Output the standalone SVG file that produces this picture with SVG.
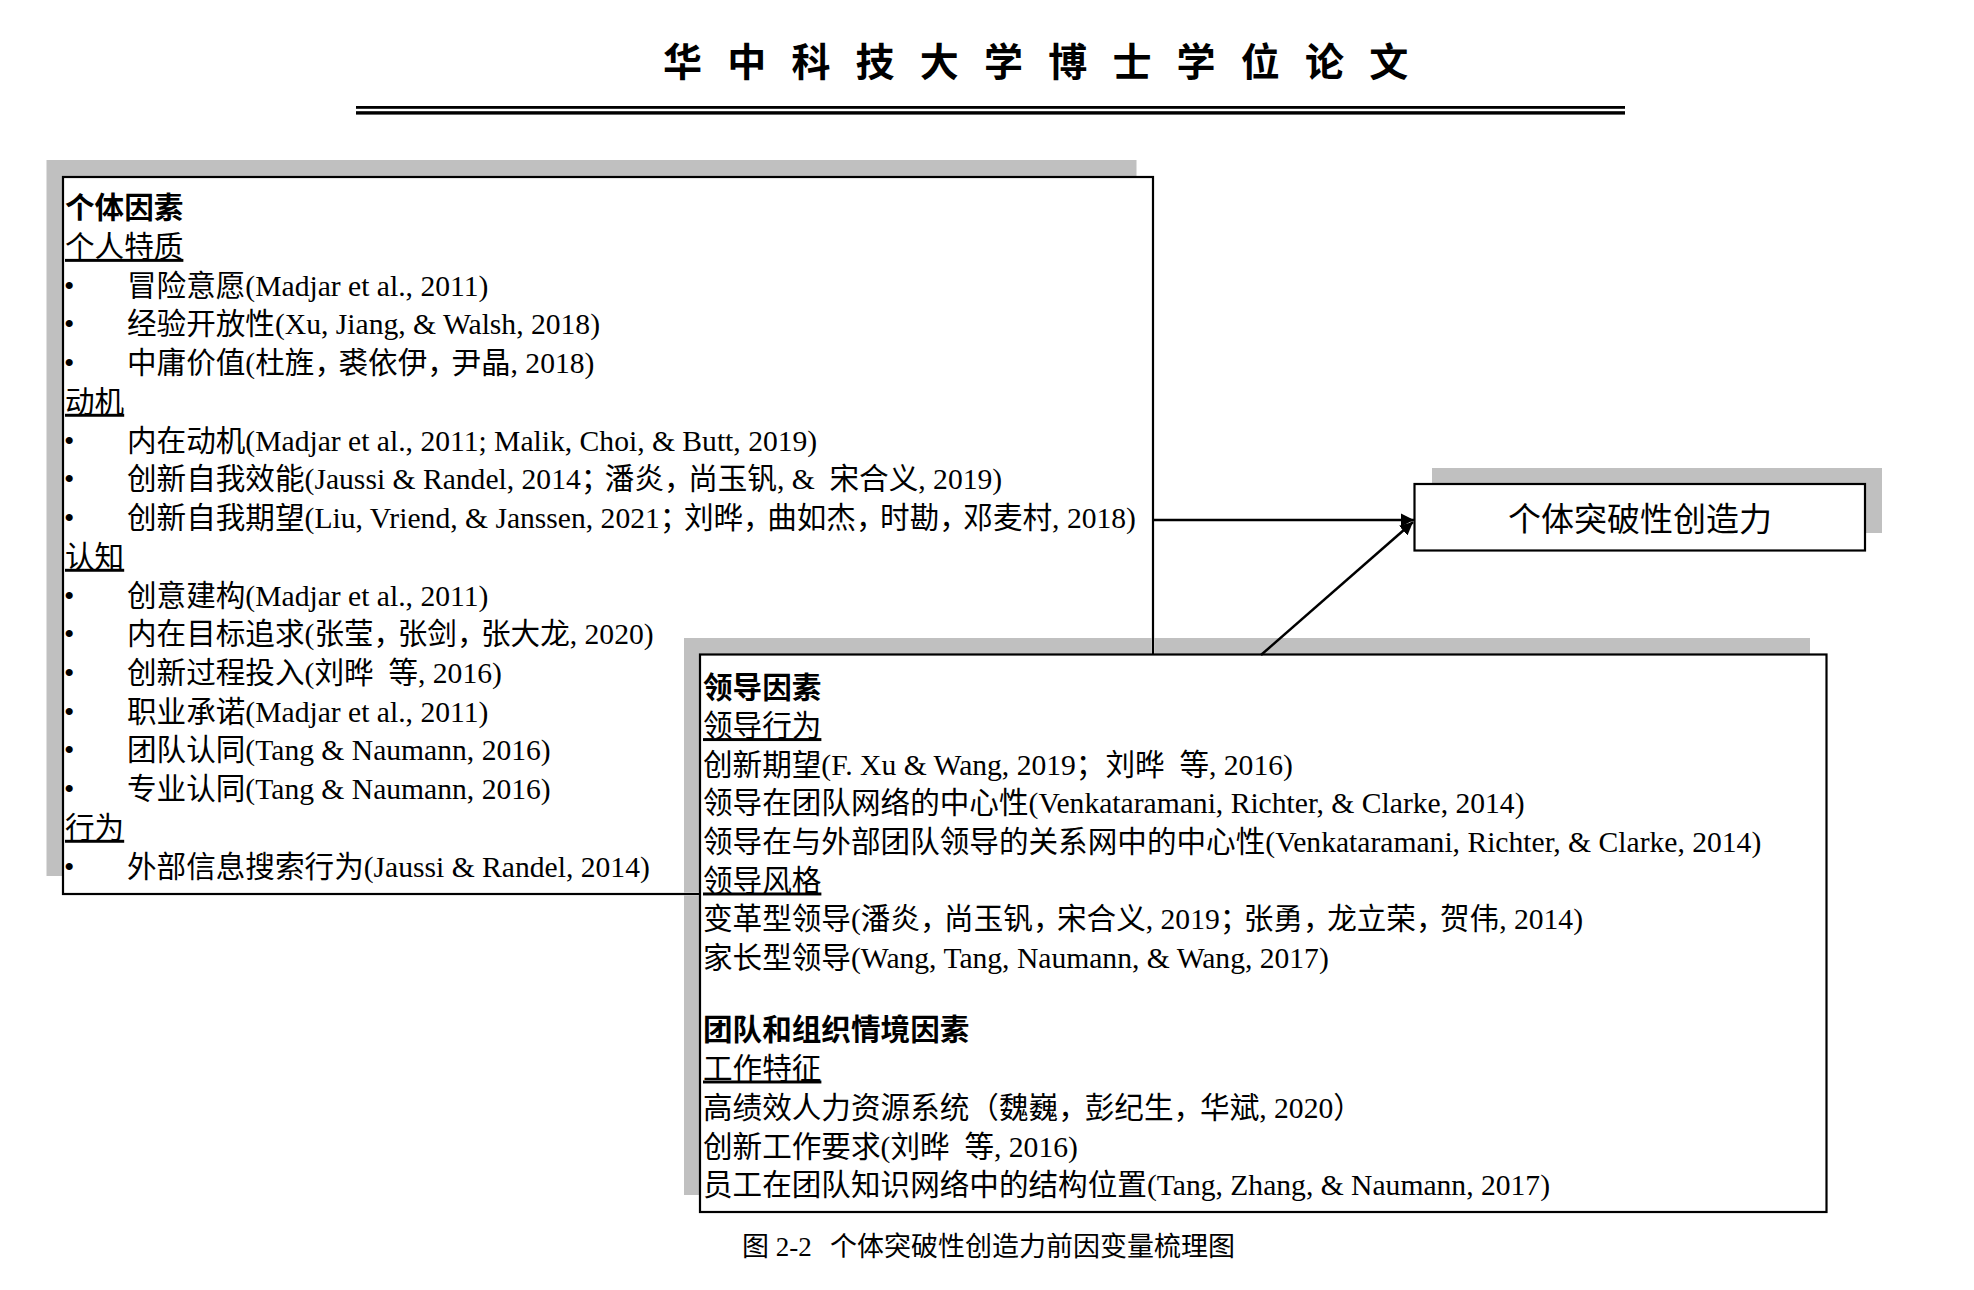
<svg xmlns="http://www.w3.org/2000/svg" width="1974" height="1290" viewBox="0 0 1974 1290">
<style>
.bg{fill:#ffffff}
.shadow{fill:#c0c0c0;stroke:none}
.box{fill:#ffffff;stroke:#000000;stroke-width:2.2}
.t{font-family:"Liberation Serif","Noto Sans CJK SC",serif;font-size:29.6px;fill:#000000;white-space:pre}
.h{font-weight:bold}
.ul{text-decoration:underline}
.p{letter-spacing:-5.5px}
.title{font-family:"Noto Sans CJK SC",sans-serif;font-size:39px;font-weight:bold;fill:#000000;text-anchor:middle}
.cap{font-family:"Liberation Serif","Noto Sans CJK SC",serif;font-size:27px;fill:#000000}
.out{font-family:"Liberation Serif","Noto Sans CJK SC",serif;font-size:33px;fill:#000000;text-anchor:middle}
.conn{stroke:#000000;stroke-width:2.5;fill:none}
</style>
<defs>
<marker id="arrow" markerUnits="userSpaceOnUse" markerWidth="14" markerHeight="14" refX="13" refY="7" orient="auto">
<path d="M0,0.5 L13,7 L0,13.5 Z" fill="#000000"/>
</marker>
</defs>
<rect class="bg" x="0" y="0" width="1974" height="1290"/>

<g id="page-header">
<text class="title" x="682.5 746.7 810.9 875.1 939.3 1003.5 1067.7 1131.9 1196.1 1260.3 1324.5 1388.7" y="76">华中科技大学博士学位论文</text>
<rect x="356" y="106" width="1269" height="2.8" fill="#000000"/>
<rect x="356" y="111.2" width="1269" height="3.4" fill="#000000"/>
</g>

<g id="node-individual">
<rect class="shadow" x="46.5" y="160" width="1090" height="716"/>
<rect class="box" x="63" y="177" width="1090" height="717"/>
<text class="t h" x="65" y="218.2">个体因素</text>
<text class="t ul" x="65" y="256.9">个人特质</text>
<text class="t" x="64" y="295.7">•</text><text class="t" x="127" y="295.7">冒险意愿(Madjar et al., 2011)</text>
<text class="t" x="64" y="334.4">•</text><text class="t" x="127" y="334.4">经验开放性(Xu, Jiang, &amp; Walsh, 2018)</text>
<text class="t" x="64" y="373.1">•</text><text class="t" x="127" y="373.1">中庸价值(杜旌<tspan class="p">，</tspan>裘依伊<tspan class="p">，</tspan>尹晶, 2018)</text>
<text class="t ul" x="65" y="411.8">动机</text>
<text class="t" x="64" y="450.6">•</text><text class="t" x="127" y="450.6">内在动机(Madjar et al., 2011; Malik, Choi, &amp; Butt, 2019)</text>
<text class="t" x="64" y="489.3">•</text><text class="t" x="127" y="489.3">创新自我效能(Jaussi &amp; Randel, 2014<tspan class="p">；</tspan>潘炎<tspan class="p">，</tspan>尚玉钒, &amp;  宋合义, 2019)</text>
<text class="t" x="64" y="528.0">•</text><text class="t" x="127" y="528.0">创新自我期望(Liu, Vriend, &amp; Janssen, 2021<tspan class="p">；</tspan>刘晔<tspan class="p">，</tspan>曲如杰<tspan class="p">，</tspan>时勘<tspan class="p">，</tspan>邓麦村, 2018)</text>
<text class="t ul" x="65" y="566.8">认知</text>
<text class="t" x="64" y="605.5">•</text><text class="t" x="127" y="605.5">创意建构(Madjar et al., 2011)</text>
<text class="t" x="64" y="644.2">•</text><text class="t" x="127" y="644.2">内在目标追求(张莹<tspan class="p">，</tspan>张剑<tspan class="p">，</tspan>张大龙, 2020)</text>
<text class="t" x="64" y="682.9">•</text><text class="t" x="127" y="682.9">创新过程投入(刘晔  等, 2016)</text>
<text class="t" x="64" y="721.7">•</text><text class="t" x="127" y="721.7">职业承诺(Madjar et al., 2011)</text>
<text class="t" x="64" y="760.4">•</text><text class="t" x="127" y="760.4">团队认同(Tang &amp; Naumann, 2016)</text>
<text class="t" x="64" y="799.1">•</text><text class="t" x="127" y="799.1">专业认同(Tang &amp; Naumann, 2016)</text>
<text class="t ul" x="65" y="837.8">行为</text>
<text class="t" x="64" y="876.6">•</text><text class="t" x="127" y="876.6">外部信息搜索行为(Jaussi &amp; Randel, 2014)</text>
</g>

<g id="node-context">
<path class="shadow" d="M684,638 H1151.8 V654.5 H684 Z M1154.2,638 H1810 V654.5 H1154.2 Z M684,654.5 H700 V892.8 H684 Z M684,895.2 H700 V1195 H684 Z"/>
<rect class="box" x="700" y="654.5" width="1126.5" height="557.5"/>
<text class="t h" x="703" y="697.5">领导因素</text>
<text class="t ul" x="703" y="736.1">领导行为</text>
<text class="t" x="703" y="774.7">创新期望(F. Xu &amp; Wang, 2019；刘晔  等, 2016)</text>
<text class="t" x="703" y="813.3">领导在团队网络的中心性(Venkataramani, Richter, &amp; Clarke, 2014)</text>
<text class="t" x="703" y="851.9">领导在与外部团队领导的关系网中的中心性(Venkataramani, Richter, &amp; Clarke, 2014)</text>
<text class="t ul" x="703" y="890.5">领导风格</text>
<text class="t" x="703" y="929.1">变革型领导(潘炎<tspan class="p">，</tspan>尚玉钒<tspan class="p">，</tspan>宋合义, 2019<tspan class="p">；</tspan>张勇<tspan class="p">，</tspan>龙立荣<tspan class="p">，</tspan>贺伟, 2014)</text>
<text class="t" x="703" y="967.7">家长型领导(Wang, Tang, Naumann, &amp; Wang, 2017)</text>
<text class="t h" x="703" y="1039.5">团队和组织情境因素</text>
<text class="t ul" x="703" y="1078.5">工作特征</text>
<text class="t" x="703" y="1117.5">高绩效人力资源系统（魏巍<tspan style="letter-spacing:-3px">，</tspan>彭纪生<tspan style="letter-spacing:-3px">，</tspan>华斌, 2020）</text>
<text class="t" x="703" y="1156.5">创新工作要求(刘晔  等, 2016)</text>
<text class="t" x="703" y="1195">员工在团队知识网络中的结构位置(Tang, Zhang, &amp; Naumann, 2017)</text>
</g>

<g id="node-outcome">
<rect class="shadow" x="1432" y="468" width="450" height="65"/>
<rect class="box" x="1414.5" y="484" width="450.5" height="66.5"/>
<text class="out" x="1640" y="531">个体突破性创造力</text>
</g>

<g id="connectors">
<line class="conn" x1="1154" y1="520" x2="1414" y2="520" marker-end="url(#arrow)"/>
<line class="conn" x1="1261" y1="655" x2="1413" y2="522" marker-end="url(#arrow)"/>
</g>

<g id="caption">
<text class="cap" x="742" y="1256">图 2-2<tspan x="830">个体突破性创造力前因变量梳理图</tspan></text>
</g>
</svg>
